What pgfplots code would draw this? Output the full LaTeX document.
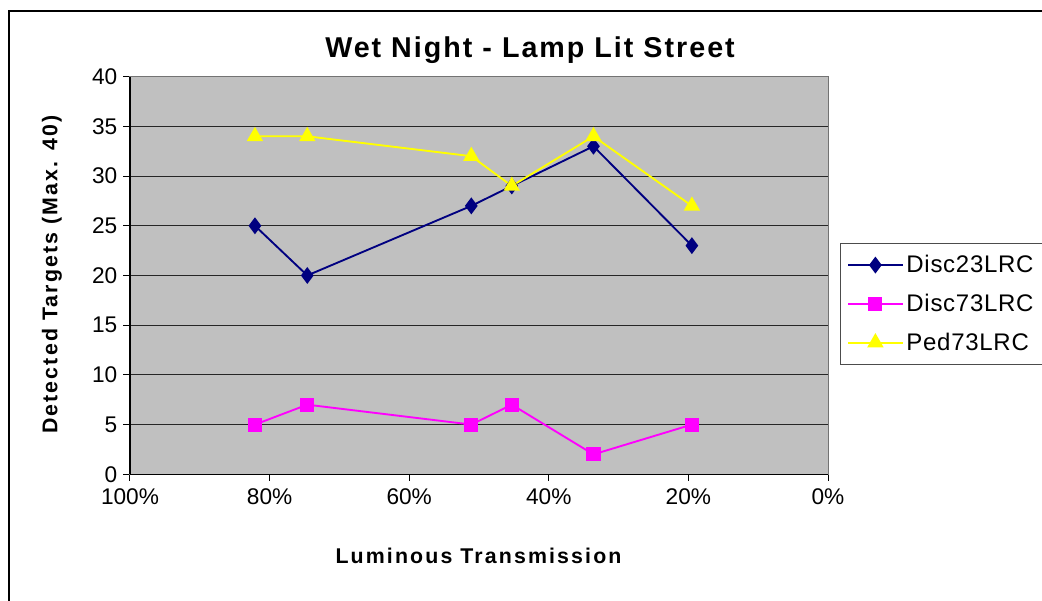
\documentclass[border=0pt]{standalone}
\usepackage{pgfplots}
\pgfplotsset{compat=1.18}
\usepackage{fontspec}
\setmainfont{Liberation Sans}
\newfontfamily\titlefont[LetterSpace=7]{Liberation Sans}
\newfontfamily\labelfont[LetterSpace=10]{Liberation Sans}
\newfontfamily\legfont[LetterSpace=3]{Liberation Sans}
\definecolor{plotgray}{HTML}{C0C0C0}
\definecolor{navyc}{HTML}{000080}
\definecolor{magc}{HTML}{FF00FF}
\definecolor{yelc}{HTML}{FFFF00}
\begin{document}
\begin{tikzpicture}
\useasboundingbox (0,0) rectangle (781.5pt,450pt);
\fill[white] (0,0) rectangle (781.5pt,450pt);
\draw[black, line width=0.8pt] (6.75pt,-20pt) rectangle (800pt,441.75pt);
\begin{axis}[
  at={(97.5pt,94.3pt)}, anchor=south west,
  scale only axis, width=523.5pt, height=298.2pt,
  xmin=0, xmax=100, x dir=reverse,
  ymin=0, ymax=40,
  xtick={0,20,40,60,80,100},
  xticklabels={0\%,20\%,40\%,60\%,80\%,100\%},
  ytick={0,5,...,40},
  xtick pos=bottom, ytick pos=left,
  tick align=outside, major tick length=5pt,
  tick style={black, line width=0.75pt},
  axis background/.style={fill=plotgray},
  axis line style={draw=gray!90!black, line width=0.75pt},
  ymajorgrids, grid style={black!85, line width=0.75pt},
  ticklabel style={font=\fontsize{17}{20}\selectfont},
  /pgf/number format/assume math mode=true,
  xticklabel style={yshift=-2pt},
  yticklabel style={xshift=-1pt},
  legend style={at={(1.0172,0.5817)}, anchor=north west, draw=black!70, line width=0.6pt,
     font=\legfont\fontsize{18}{21}\selectfont, row sep=10.5pt, inner xsep=5pt, inner ysep=7pt},
  legend cell align=left,
  legend image code/.code={
    \draw[#1, mark=none, line width=1.5pt] (0pt,0pt) -- (41pt,0pt);
    \draw[#1, only marks] plot coordinates {(20.5pt,0pt)};
  },
  clip=false,
]
\addplot[navyc, line width=1.4pt, mark=diamond*, mark size=5.2pt, mark options={fill=navyc, draw=navyc}]
  coordinates {(82.1,25) (74.6,20) (51.1,27) (45.3,29) (33.6,33) (19.5,23)};
\addlegendentry{Disc23LRC}
\addplot[magc, line width=1.4pt, mark=square*, mark size=4.6pt, mark options={fill=magc, draw=magc}]
  coordinates {(82.1,5) (74.6,7) (51.1,5) (45.3,7) (33.6,2) (19.5,5)};
\addlegendentry{Disc73LRC}
\addplot[yelc, line width=1.4pt, mark=triangle*, mark size=5.7pt, mark options={fill=yelc, draw=yelc}]
  coordinates {(82.1,34) (74.6,34) (51.1,32) (45.3,29) (33.6,34) (19.5,27)};
\addlegendentry{Ped73LRC}
\draw[black, line width=0.9pt] (rel axis cs:0,0) -- (rel axis cs:0,1);
\draw[black, line width=0.9pt] (rel axis cs:0,0) -- (rel axis cs:1,0);
\end{axis}
\node[font=\titlefont\bfseries\fontsize{21.5}{24}\selectfont] at (397.5pt,412.5pt) {Wet Night - Lamp Lit Street};
\node[font=\labelfont\bfseries\fontsize{16}{19}\selectfont] at (358.9pt,33pt) {Luminous Transmission};
\node[font=\labelfont\bfseries\fontsize{16}{19}\selectfont, rotate=90] at (39pt,244pt) {Detected Targets (Max. 40)};
\end{tikzpicture}
\end{document}
